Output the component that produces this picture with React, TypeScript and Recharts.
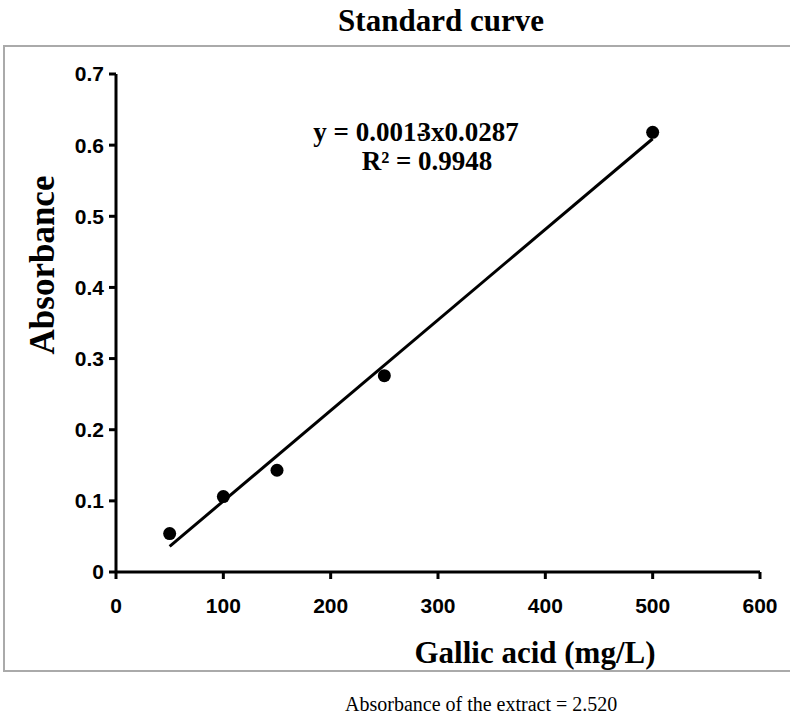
import { Scatter, ScatterChart, XAxis, YAxis } from "recharts";

// gallic acid standards (mg/L) and measured absorbance
const concentrations = [50, 100, 150, 250, 500];
const absorbances = [0.054, 0.106, 0.143, 0.276, 0.618];

// linear fit drawn across the measured range
const fitX = [50, 500];
const fitY = [0.036, 0.609];

const xTicks = [0, 100, 200, 300, 400, 500, 600];
const yTicks = [0, 0.1, 0.2, 0.3, 0.4, 0.5, 0.6, 0.7];

const points = concentrations.map((x, i) => ({ x, y: absorbances[i] }));
const fitLine = fitX.map((x, i) => ({ x, y: fitY[i] }));

const serif = "'Liberation Serif', 'Times New Roman', serif";
const sans = "'Liberation Sans', Arial, sans-serif";

const tickStyle = {
  fontFamily: sans,
  fontWeight: 700,
  fontSize: 21,
  fill: "#000",
};

const centered = (left: number, top: number, extra: any = {}) => ({
  position: "absolute" as const,
  left,
  top,
  transform: "translate(-50%, -50%)",
  whiteSpace: "nowrap" as const,
  lineHeight: 1,
  fontFamily: serif,
  fontWeight: 700,
  color: "#000",
  ...extra,
});

const NoDot = () => null;

const StandardCurve = () => {
  return (
    <div
      style={{
        position: "absolute",
        left: 0,
        top: 0,
        width: 790,
        height: 715,
        background: "#fff",
        overflow: "hidden",
      }}
    >
      {/* plot frame */}
      <div
        style={{
          position: "absolute",
          left: 3,
          top: 45,
          width: 800,
          height: 627,
          border: "2px solid #aaa",
          boxSizing: "border-box",
        }}
      />

      <div style={{ position: "absolute", left: 0, top: 0 }}>
        <ScatterChart
          width={790}
          height={715}
          margin={{ top: 74, right: 30, bottom: 113, left: 56 }}
        >
          <XAxis
            type="number"
            dataKey="x"
            domain={[0, 600]}
            ticks={xTicks}
            interval={0}
            height={30}
            axisLine={{ stroke: "#000", strokeWidth: 3 }}
            tickLine={{ stroke: "#000", strokeWidth: 3 }}
            tickSize={7}
            tickMargin={19}
            tick={tickStyle}
          />
          <YAxis
            type="number"
            dataKey="y"
            domain={[0, 0.7]}
            ticks={yTicks}
            interval={0}
            width={60}
            axisLine={{ stroke: "#000", strokeWidth: 3 }}
            tickLine={{ stroke: "#000", strokeWidth: 3 }}
            tickSize={7}
            tickMargin={5}
            tick={tickStyle}
            tickFormatter={(v: number) => (v === 0 ? "0" : v.toFixed(1))}
          />
          <Scatter
            data={fitLine}
            line={{ stroke: "#000", strokeWidth: 3 }}
            shape={NoDot}
            isAnimationActive={false}
          />
          <Scatter
            data={points}
            fill="#000"
            shape={(p: any) => <circle cx={p.cx} cy={p.cy} r={6.5} fill="#000" />}
            isAnimationActive={false}
          />
        </ScatterChart>
      </div>

      <div style={centered(441, 20, { fontSize: 31 })}>Standard curve</div>

      <div style={centered(416, 132, { fontSize: 27 })}>
        y = 0.001
        <span style={{ marginRight: -8 }}>-</span>
        3x0.0287
      </div>
      <div style={centered(427, 161, { fontSize: 27 })}>R² = 0.9948</div>

      <div style={centered(42, 265, { fontSize: 35, transform: "translate(-50%, -50%) rotate(-90deg)" })}>
        Absorbance
      </div>
      <div style={centered(535, 652, { fontSize: 31 })}>Gallic acid (mg/L)</div>

      <div
        style={{
          position: "absolute",
          left: 345,
          top: 694,
          fontFamily: serif,
          fontSize: 20,
          lineHeight: 1,
          whiteSpace: "nowrap",
          color: "#000",
        }}
      >
        Absorbance of the extract = 2.520
      </div>
    </div>
  );
};

export default function App() {
  return <StandardCurve />;
}
